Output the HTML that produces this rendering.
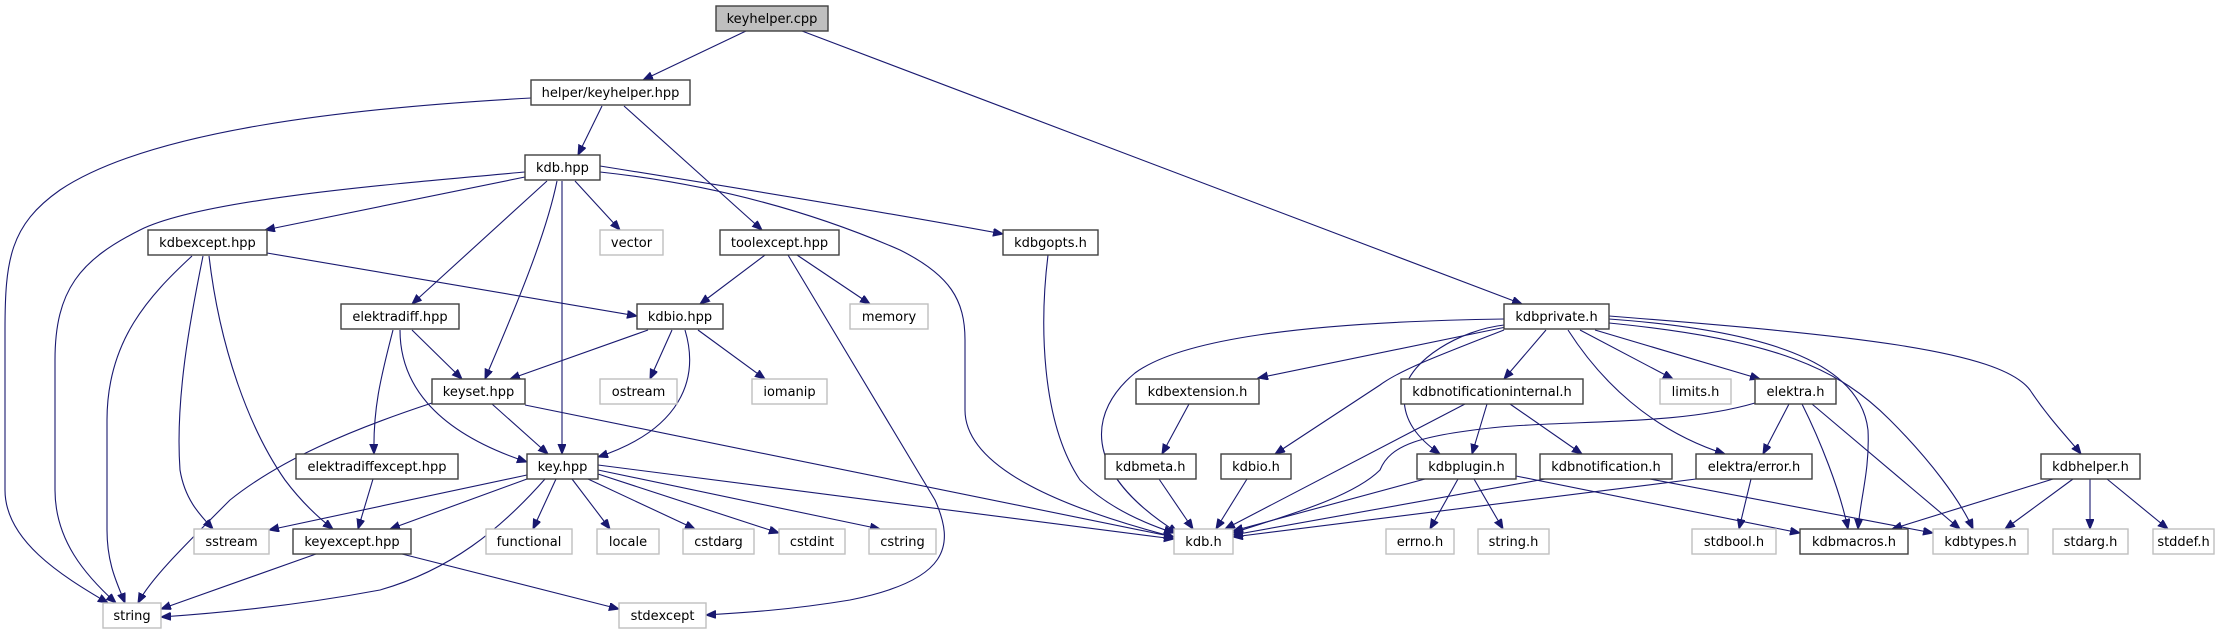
<!DOCTYPE html>
<html><head><meta charset="utf-8"><style>
html,body{margin:0;padding:0;background:#fff}
svg{display:block}
text{font-family:"DejaVu Sans","Liberation Sans",sans-serif;font-size:13px;text-anchor:middle;fill:#000}
.b{fill:#fff;stroke:#404040;stroke-width:1.4}
.g{fill:#fff;stroke:#bfbfbf;stroke-width:1.4}
.e path{fill:none;stroke:#191970;stroke-width:1.1;marker-end:url(#a)}
</style></head><body>
<svg width="2227" height="635" viewBox="0 0 2227 635" xmlns="http://www.w3.org/2000/svg">
<defs><marker id="a" markerUnits="userSpaceOnUse" markerWidth="11" markerHeight="9" refX="10" refY="4" orient="auto"><path d="M0,0 L10,4 L0,8 z" fill="#191970" stroke="#191970"/></marker></defs>
<g class="e">
<path d="M746,31 L643,80"/>
<path d="M802,31 L1522,304"/>
<path d="M531,98 C350,108 150,130 60,190 C10,225 5,260 5,330 L5,490 C5,540 60,575 108,603"/>
<path d="M602,106 L578,155"/>
<path d="M624,106 L762,230"/>
<path d="M525,172 C380,185 200,200 140,230 C80,260 55,290 55,360 L55,490 C55,540 85,575 116,603"/>
<path d="M525,177 L265,230"/>
<path d="M547,181 L412,304"/>
<path d="M557,181 C545,240 510,320 485,379"/>
<path d="M562,181 L562,454"/>
<path d="M575,181 L620,230"/>
<path d="M600,172 C720,185 820,215 900,250 C950,275 965,300 965,340 L965,410 C965,470 1070,510 1174,537"/>
<path d="M600,166 C750,190 900,215 1003,234"/>
<path d="M192,256 C150,295 107,340 107,420 L107,530 C107,565 118,585 125,603"/>
<path d="M203,256 C190,320 175,400 180,470 C185,500 200,515 213,529"/>
<path d="M209,256 C220,350 250,430 285,480 C300,500 315,515 333,529"/>
<path d="M267,253 L637,316"/>
<path d="M765,255 L700,304"/>
<path d="M797,255 L870,304"/>
<path d="M788,255 L935,500 C955,545 950,580 850,600 C790,610 740,613 706,615"/>
<path d="M1048,255 C1040,320 1040,420 1080,480 C1110,510 1150,525 1174,533"/>
<path d="M412,330 L462,379"/>
<path d="M400,330 C400,380 430,430 527,462"/>
<path d="M393,330 C380,380 373,410 374,454"/>
<path d="M648,330 L510,379"/>
<path d="M672,330 L650,379"/>
<path d="M698,330 L765,379"/>
<path d="M685,330 C700,380 680,430 598,457"/>
<path d="M432,403 C350,430 280,460 230,500 C180,550 150,580 138,603"/>
<path d="M492,404 L548,454"/>
<path d="M525,405 L1174,537"/>
<path d="M373,479 L358,529"/>
<path d="M527,475 L269,530"/>
<path d="M527,479 L390,529"/>
<path d="M545,479 C500,530 450,570 380,590 C300,605 220,613 161,617"/>
<path d="M556,479 L533,529"/>
<path d="M572,479 L610,529"/>
<path d="M588,479 L695,529"/>
<path d="M598,474 L779,533"/>
<path d="M598,470 L880,529"/>
<path d="M598,465 L1174,539"/>
<path d="M316,554 L161,609"/>
<path d="M402,554 L619,609"/>
<path d="M1504,319 C1300,322 1180,340 1135,373 C1090,410 1078,470 1178,533"/>
<path d="M1506,327 L1258,378"/>
<path d="M1504,330 C1440,355 1400,370 1380,385 L1275,454"/>
<path d="M1504,325 C1460,330 1410,360 1405,390 C1400,420 1420,440 1440,454"/>
<path d="M1546,330 L1504,379"/>
<path d="M1580,330 L1673,379"/>
<path d="M1595,330 L1760,379"/>
<path d="M1568,330 C1600,380 1650,430 1725,454"/>
<path d="M1609,319 C1760,330 1860,360 1868,430 C1870,470 1860,500 1858,529"/>
<path d="M1609,323 C1780,340 1840,370 1890,420 C1930,460 1960,500 1973,529"/>
<path d="M1609,316 C1850,335 2000,350 2030,390 C2050,420 2070,440 2081,454"/>
<path d="M1189,404 L1162,454"/>
<path d="M1159,479 L1193,529"/>
<path d="M1247,479 L1216,529"/>
<path d="M1465,404 L1225,529"/>
<path d="M1487,404 L1472,454"/>
<path d="M1510,404 L1582,454"/>
<path d="M1425,479 L1233,531"/>
<path d="M1458,479 L1430,529"/>
<path d="M1474,479 L1503,529"/>
<path d="M1516,476 L1800,533"/>
<path d="M1545,479 L1233,535"/>
<path d="M1650,479 L1933,533"/>
<path d="M1755,403 C1680,425 1580,420 1500,427 C1420,435 1390,445 1380,470 C1350,500 1270,520 1233,533"/>
<path d="M1789,404 L1763,454"/>
<path d="M1802,404 C1820,440 1840,490 1848,529"/>
<path d="M1812,404 L1960,529"/>
<path d="M1696,479 L1233,537"/>
<path d="M1751,479 L1739,529"/>
<path d="M2053,479 L1892,529"/>
<path d="M2073,479 L2005,529"/>
<path d="M2090,479 L2090,529"/>
<path d="M2107,479 L2168,529"/>
</g>
<g>
<rect x="716" y="6" width="112" height="25" fill="#bfbfbf" stroke="#404040" stroke-width="1.4"/><text x="772" y="23">keyhelper.cpp</text>
<rect class="b" x="531" y="80" width="159" height="25"/><text x="610.5" y="97">helper/keyhelper.hpp</text>
<rect class="b" x="525" y="155" width="75" height="25"/><text x="562.5" y="172">kdb.hpp</text>
<rect class="b" x="148" y="230" width="119" height="25"/><text x="207.5" y="247">kdbexcept.hpp</text>
<rect class="g" x="600" y="230" width="63" height="25"/><text x="631.5" y="247">vector</text>
<rect class="b" x="720" y="230" width="119" height="25"/><text x="779.5" y="247">toolexcept.hpp</text>
<rect class="b" x="1003" y="230" width="95" height="25"/><text x="1050.5" y="247">kdbgopts.h</text>
<rect class="b" x="341" y="304" width="118" height="25"/><text x="400" y="321">elektradiff.hpp</text>
<rect class="b" x="637" y="304" width="86" height="25"/><text x="680" y="321">kdbio.hpp</text>
<rect class="g" x="850" y="304" width="78" height="25"/><text x="889" y="321">memory</text>
<rect class="b" x="1504" y="304" width="105" height="25"/><text x="1556.5" y="321">kdbprivate.h</text>
<rect class="b" x="432" y="379" width="93" height="25"/><text x="478.5" y="396">keyset.hpp</text>
<rect class="g" x="600" y="379" width="77" height="25"/><text x="638.5" y="396">ostream</text>
<rect class="g" x="752" y="379" width="75" height="25"/><text x="789.5" y="396">iomanip</text>
<rect class="b" x="1136" y="379" width="123" height="25"/><text x="1197.5" y="396">kdbextension.h</text>
<rect class="b" x="1401" y="379" width="182" height="25"/><text x="1492" y="396">kdbnotificationinternal.h</text>
<rect class="g" x="1660" y="379" width="71" height="25"/><text x="1695.5" y="396">limits.h</text>
<rect class="b" x="1755" y="379" width="81" height="25"/><text x="1795.5" y="396">elektra.h</text>
<rect class="b" x="296" y="454" width="162" height="25"/><text x="377" y="471">elektradiffexcept.hpp</text>
<rect class="b" x="527" y="454" width="71" height="25"/><text x="562.5" y="471">key.hpp</text>
<rect class="b" x="1105" y="454" width="91" height="25"/><text x="1150.5" y="471">kdbmeta.h</text>
<rect class="b" x="1221" y="454" width="70" height="25"/><text x="1256" y="471">kdbio.h</text>
<rect class="b" x="1417" y="454" width="99" height="25"/><text x="1466.5" y="471">kdbplugin.h</text>
<rect class="b" x="1540" y="454" width="132" height="25"/><text x="1606" y="471">kdbnotification.h</text>
<rect class="b" x="1696" y="454" width="116" height="25"/><text x="1754" y="471">elektra/error.h</text>
<rect class="b" x="2041" y="454" width="99" height="25"/><text x="2090.5" y="471">kdbhelper.h</text>
<rect class="g" x="194" y="529" width="75" height="25"/><text x="231.5" y="546">sstream</text>
<rect class="b" x="293" y="529" width="118" height="25"/><text x="352" y="546">keyexcept.hpp</text>
<rect class="g" x="486" y="529" width="86" height="25"/><text x="529" y="546">functional</text>
<rect class="g" x="597" y="529" width="62" height="25"/><text x="628" y="546">locale</text>
<rect class="g" x="683" y="529" width="71" height="25"/><text x="718.5" y="546">cstdarg</text>
<rect class="g" x="779" y="529" width="66" height="25"/><text x="812" y="546">cstdint</text>
<rect class="g" x="869" y="529" width="67" height="25"/><text x="902.5" y="546">cstring</text>
<rect class="g" x="1174" y="529" width="59" height="25"/><text x="1203.5" y="546">kdb.h</text>
<rect class="g" x="1386" y="529" width="68" height="25"/><text x="1420" y="546">errno.h</text>
<rect class="g" x="1478" y="529" width="71" height="25"/><text x="1513.5" y="546">string.h</text>
<rect class="g" x="1692" y="529" width="84" height="25"/><text x="1734" y="546">stdbool.h</text>
<rect class="b" x="1800" y="529" width="108" height="25"/><text x="1854" y="546">kdbmacros.h</text>
<rect class="g" x="1933" y="529" width="95" height="25"/><text x="1980.5" y="546">kdbtypes.h</text>
<rect class="g" x="2053" y="529" width="75" height="25"/><text x="2090.5" y="546">stdarg.h</text>
<rect class="g" x="2153" y="529" width="61" height="25"/><text x="2183.5" y="546">stddef.h</text>
<rect class="g" x="103" y="603" width="58" height="25"/><text x="132" y="620">string</text>
<rect class="g" x="619" y="603" width="87" height="25"/><text x="662.5" y="620">stdexcept</text>
</g>
</svg>
</body></html>
